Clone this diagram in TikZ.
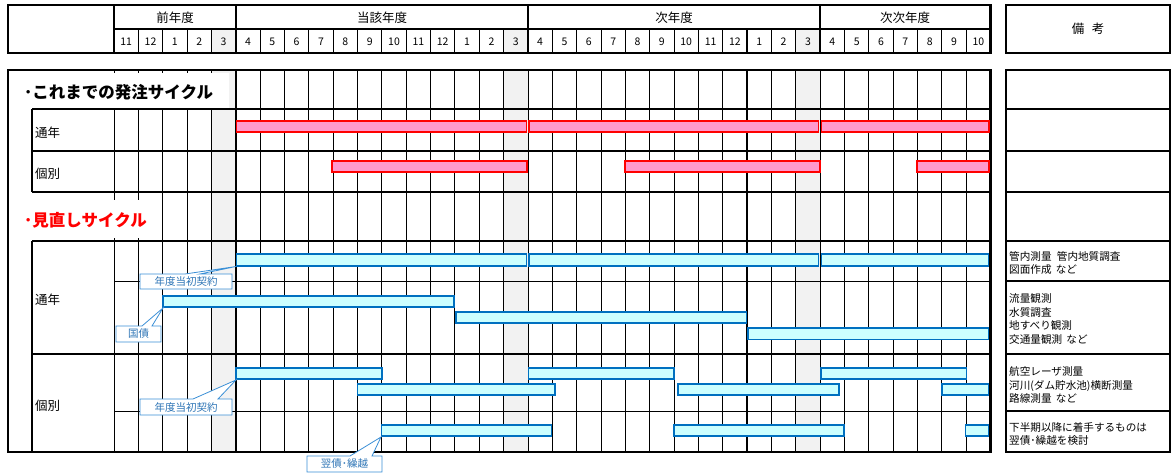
\documentclass[tikz,border=0pt]{standalone}
\usepackage{fontspec}
\setmainfont{Noto Sans CJK JP}
\definecolor{shadec}{HTML}{F2F2F2}
\definecolor{pinkf}{HTML}{FF99CC}
\definecolor{redb}{HTML}{FF0000}
\definecolor{cyanf}{HTML}{CCFFFF}
\definecolor{blueb}{HTML}{0070C0}
\definecolor{callb}{HTML}{3A8FD6}
\definecolor{callt}{HTML}{2E75B6}
\begin{document}
\begin{tikzpicture}[x=1pt,y=-1pt,
  thinl/.style={line width=0.9pt},
  thickl/.style={line width=1.7pt},
  frame/.style={line width=2.6pt},
  oldbar/.style={draw=redb,fill=pinkf,line width=1.8pt},
  newbar/.style={draw=blueb,fill=cyanf,line width=1.8pt},
  callout/.style={draw=callb,fill=white,line width=0.8pt},
  calltext/.style={text=callt,font=\fontsize{10.5}{12}\selectfont,inner sep=0pt},
  lab/.style={anchor=west,inner sep=0pt,font=\fontsize{12.5}{14}\selectfont},
  rem/.style={anchor=west,inner sep=0pt,align=left,font=\fontsize{10.6}{13.6}\selectfont},
  mon/.style={inner sep=0pt,font=\fontsize{10.5}{12}\selectfont},
  yr/.style={inner sep=0pt,font=\fontsize{12.5}{14}\selectfont},
  ttl/.style={anchor=west,inner sep=0pt,font=\fontsize{16.5}{18}\selectfont\bfseries}
]
\useasboundingbox (0,0) rectangle (1175,473);

% ---------- header ----------
\foreach \i in {4,16,28} \fill[shadec] ({114+24.35*\i},29) rectangle ({114+24.35*(\i+1)},53);
\foreach \i in {1,...,35} \draw[thinl] ({114+24.35*\i},29) -- ({114+24.35*\i},53);
\foreach \i in {4,16,26,27} \draw[thickl] ({114+24.35*\i},29) -- ({114+24.35*\i},53);
\foreach \i in {0,5,17,29} \draw[thickl] ({114+24.35*\i},5) -- ({114+24.35*\i},53);
\draw[thickl] (114,29) -- (990.6,29);
\draw[frame] (8,5) rectangle (990.6,53);
\node[yr] (y0) at (175,17.5) {前年度};
\node[yr] (y1) at (382,17.5) {当該年度};
\node[yr] (y2) at (674,17.5) {次年度};
\node[yr] (y3) at (905,17.5) {次次年度};
\foreach \m [count=\i from 0] in {11,12,1,2,3,4,5,6,7,8,9,10,11,12,1,2,3,4,5,6,7,8,9,10,11,12,1,2,3,4,5,6,7,8,9,10}
  \node[mon] (m\i) at ({114+24.35*(\i+0.5)},41.5) {\m};

\draw[frame] (1006,5) rectangle (1170,53);
\node[yr] (bk) at (1088,28.5) {備\hspace{0.6em}考};

% ---------- body grid ----------
\foreach \i in {4,16,28} \fill[shadec] ({114+24.35*\i},70) rectangle ({114+24.35*(\i+1)},452);
\foreach \i in {0,...,35} \draw[thinl] ({114+24.35*\i},70) -- ({114+24.35*\i},452);
\foreach \i in {4,5,16,26,27} \draw[thickl] ({114+24.35*\i},70) -- ({114+24.35*\i},452);
\fill[white] (10,73) rectangle (229,108);
\fill[white] (10,200) rectangle (146,238);
\foreach \y in {109,151,192,241,354} \draw[thickl] (32,\y) -- (990.6,\y);
\foreach \y in {281,411} \draw[thinl] (114,\y) -- (990.6,\y);
\draw[thickl] (32,109) -- (32,192);
\draw[thickl] (32,241) -- (32,452);
\draw[frame] (8,70) rectangle (990.6,452);

\node[ttl] (t1) at (24,92) {･これまでの発注サイクル};
\node[ttl,text=redb] (t2) at (24,220) {･見直しサイクル};
\node[lab] (l1) at (35,133) {通年};
\node[lab] (l2) at (35,174) {個別};
\node[lab] (l3) at (35,300) {通年};
\node[lab] (l4) at (35,406) {個別};

% ---------- remarks ----------
\draw[frame] (1006,70) rectangle (1170,452);
\foreach \y in {109,151,192,241,281,354,411} \draw[thickl] (1006,\y) -- (1170,\y);
\node[rem] (r1) at (1009,263) {管内測量\hspace{0.5em}管内地質調査\\図面作成\hspace{0.4em}など};
\node[rem] (r2) at (1009,319) {流量観測\\水質調査\\地すべり観測\\交通量観測\hspace{0.4em}など};
\node[rem] (r3) at (1009,385) {航空レーザ測量\\河川(ダム貯水池)横断測量\\路線測量\hspace{0.4em}など};
\node[rem] (r4) at (1009,434) {下半期以降に着手するものは\\翌債･繰越を検討};

% ---------- old bars ----------
\draw[oldbar] (236.5,121) rectangle (526.5,132);
\draw[oldbar] (529,121) rectangle (818.5,132);
\draw[oldbar] (821.5,121) rectangle (989,132);
\draw[oldbar] (332,161) rectangle (527,172);
\draw[oldbar] (625,161) rectangle (820,172);
\draw[oldbar] (917,161) rectangle (989,172);

% ---------- new bars ----------
\draw[newbar] (236.5,254) rectangle (526.5,266);
\draw[newbar] (529,254) rectangle (818.5,266);
\draw[newbar] (821.5,254) rectangle (988.5,266);
\draw[newbar] (163,296) rectangle (454,307);
\draw[newbar] (456,312) rectangle (746.5,323);
\draw[newbar] (748,328) rectangle (988.5,339.5);
\draw[newbar] (236,368) rectangle (382,379);
\draw[newbar] (528.5,368) rectangle (674,379);
\draw[newbar] (821,368) rectangle (966.5,379);
\draw[newbar] (357.5,384) rectangle (555,395);
\draw[newbar] (678,384) rectangle (839,395);
\draw[newbar] (942,384) rectangle (988.5,395);
\draw[newbar] (381.5,425) rectangle (551.5,436);
\draw[newbar] (674,425) rectangle (844,436);
\draw[newbar] (965.5,425) rectangle (988.5,436);

% ---------- callouts ----------
\draw[callout] (140,274) -- (185,274) -- (236,266.5) -- (200,274) -- (232,274) -- (232,289) -- (140,289) -- cycle;
\node[calltext] (c1) at (186,281.5) {年度当初契約};
\draw[callout] (116,326) -- (142,326) -- (163,308) -- (152,326) -- (161,326) -- (161,342) -- (116,342) -- cycle;
\node[calltext] (c2) at (138.5,334) {国債};
\draw[callout] (140,399) -- (193,399) -- (236,380) -- (218,399) -- (232,399) -- (232,415) -- (140,415) -- cycle;
\node[calltext] (c3) at (186,407) {年度当初契約};
\draw[callout] (307,456) -- (350,456) -- (381,437) -- (372,456) -- (382,456) -- (382,472) -- (307,472) -- cycle;
\node[calltext] (c4) at (344.5,464) {翌債･繰越};
\end{tikzpicture}
\end{document}
